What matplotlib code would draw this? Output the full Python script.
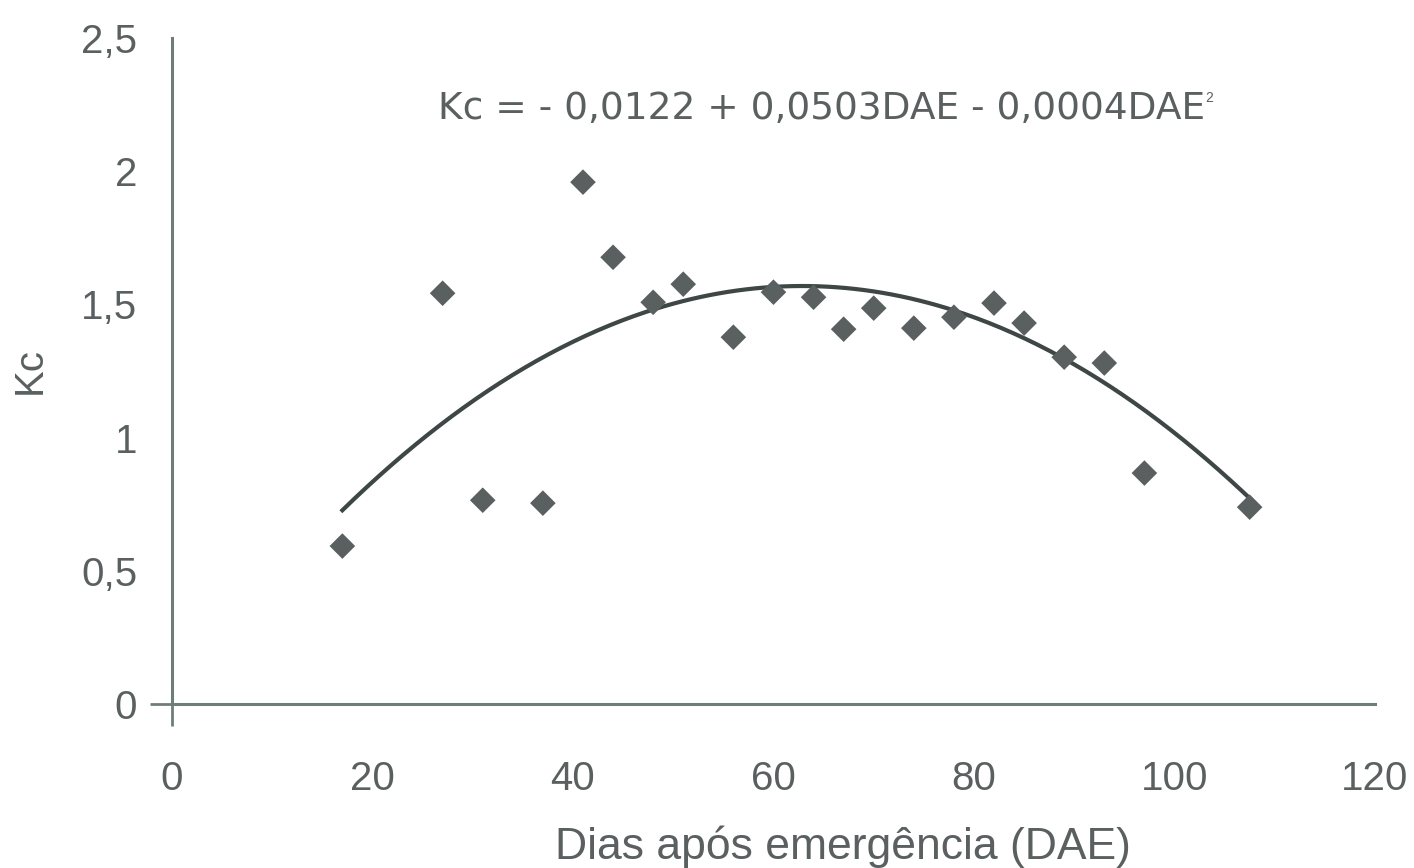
import numpy as np
import matplotlib.pyplot as plt

plt.rcParams['font.family'] = ['Liberation Sans', 'DejaVu Sans']

# days after emergence and measured crop coefficient
dae = [17, 27, 31, 37, 41, 44, 48, 51, 56, 60, 64, 67, 70, 74, 78, 82, 85, 89, 93, 97, 107.5]
kc = [0.593, 1.542, 0.765, 0.754, 1.959, 1.677, 1.508, 1.576, 1.377, 1.546, 1.527,
      1.407, 1.486, 1.411, 1.452, 1.505, 1.430, 1.302, 1.280, 0.867, 0.739]

# trendline coefficients as printed on the chart (c0, c1, c2)
coef = [-0.0122, 0.0503, -0.0004]

xticks = [0, 20, 40, 60, 80, 100, 120]
yticks = [0, 0.5, 1, 1.5, 2, 2.5]
ytick_labels = ['0', '0,5', '1', '1,5', '2', '2,5']

txt = '#5a6060'
axis_col = '#6f7d78'

fig = plt.figure(figsize=(14.14, 8.68), dpi=100)
ax = fig.add_axes([0.1216, 0.1889, 0.8508, 0.7673])

xs = np.linspace(min(dae), max(dae), 300)
ys = coef[0] + coef[1] * xs + coef[2] * xs ** 2
ax.plot(xs, ys, color='#3e4646', lw=3.0, zorder=2)
ax.scatter(dae, kc, marker='D', s=170, color='#5a6060', edgecolors='none', zorder=3)

ax.set_xlim(0, 120)
ax.set_ylim(0, 2.5)
ax.set_xticks(xticks)
ax.set_xticklabels([str(t) for t in xticks])
ax.set_yticks(yticks)
ax.set_yticklabels(ytick_labels)
ax.tick_params(axis='both', length=16, width=2, color=axis_col,
               labelsize=29, labelcolor=txt)
ax.tick_params(axis='y', pad=9)
ax.tick_params(axis='x', pad=24)
# only the origin carries a visible tick mark
for t in ax.xaxis.get_major_ticks()[1:]:
    t.tick1line.set_visible(False)
for t in ax.yaxis.get_major_ticks()[1:]:
    t.tick1line.set_visible(False)

for s in ['top', 'right']:
    ax.spines[s].set_visible(False)
for s in ['left', 'bottom']:
    ax.spines[s].set_color(axis_col)
    ax.spines[s].set_linewidth(2.2)

ax.set_xlabel('Dias após emergência (DAE)', fontsize=32, color=txt)
ax.xaxis.set_label_coords(0.558, -0.183)
ax.set_ylabel('Kc', fontsize=29, color=txt)
ax.yaxis.set_label_coords(-0.102, 0.5)

ax.text(0.221, 0.893, 'Kc = - 0,0122 + 0,0503DAE - 0,0004DAE',
        transform=ax.transAxes, fontsize=27, color=txt, ha='left', va='center',
        family='DejaVu Sans')
ax.text(0.859, 0.910, '2', transform=ax.transAxes, fontsize=10, color=txt,
        ha='left', va='center')

fig.savefig('out.png', dpi=100)
